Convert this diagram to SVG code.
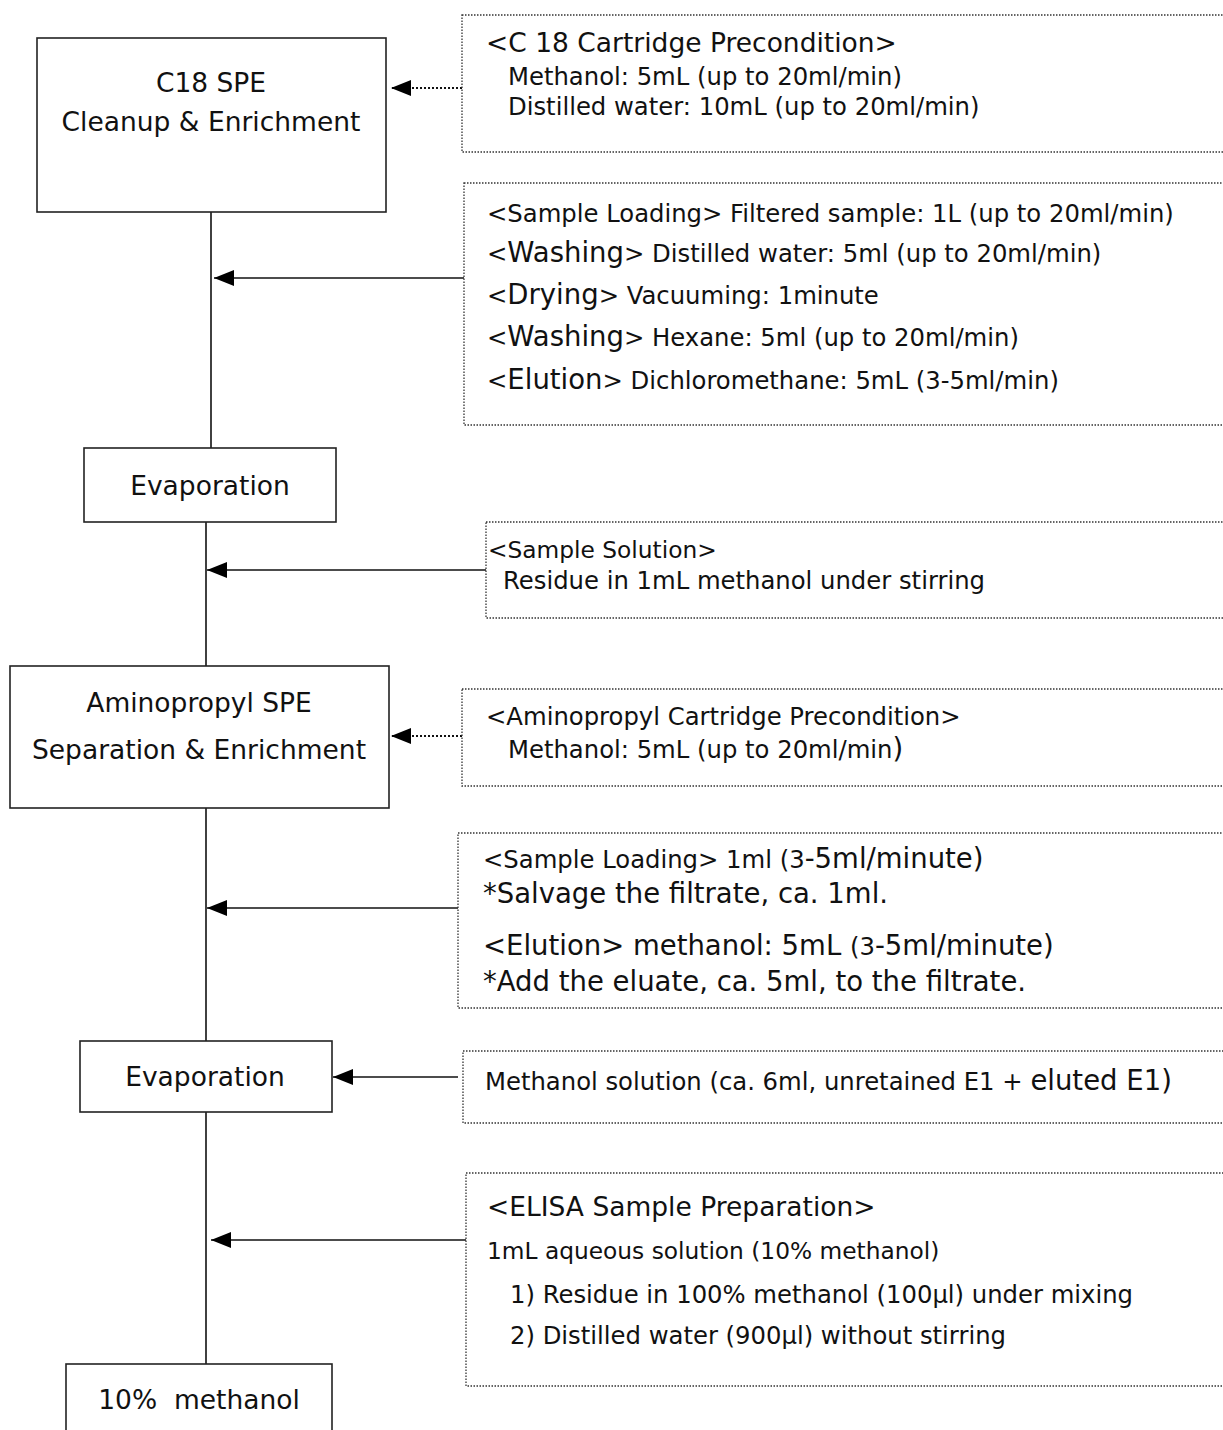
<svg xmlns="http://www.w3.org/2000/svg" width="1223" height="1430" viewBox="0 0 1223 1430">
<style>
text{font-family:"DejaVu Sans","Liberation Sans",sans-serif;fill:#111;}
.node rect{fill:#fff;stroke:#222;stroke-width:1.6;}
.nl{font-size:26.5px;text-anchor:middle;}
.note rect{fill:#fff;stroke:#333;stroke-width:1.3;stroke-dasharray:1.5 1.5;}
.h{font-size:26.5px;}
.b{font-size:24.3px;}
.s{font-size:23.3px;}
.big{font-size:27.5px;}
.conn line{stroke:#111;stroke-width:1.6;}
.conn .dot{stroke-dasharray:2 2;stroke-width:2;}
</style>
<defs>
<marker id="ah" viewBox="0 0 20 16" refX="20" refY="8" markerWidth="20" markerHeight="16" markerUnits="userSpaceOnUse" orient="auto">
<path d="M0,0 L20,8 L0,16 z" fill="#000"/>
</marker>
</defs>
<rect width="1223" height="1430" fill="#fff"/>
<g id="connectors" class="conn">
<line x1="211" y1="212" x2="211" y2="448"/>
<line x1="206" y1="522" x2="206" y2="666"/>
<line x1="206" y1="808" x2="206" y2="1041"/>
<line x1="206" y1="1112" x2="206" y2="1364"/>
<line class="dot" x1="462" y1="88" x2="391" y2="88" marker-end="url(#ah)"/>
<line x1="464" y1="278" x2="214" y2="278" marker-end="url(#ah)"/>
<line x1="486" y1="570" x2="207" y2="570" marker-end="url(#ah)"/>
<line class="dot" x1="462" y1="736" x2="391" y2="736" marker-end="url(#ah)"/>
<line x1="458" y1="908" x2="207" y2="908" marker-end="url(#ah)"/>
<line x1="458" y1="1077" x2="333" y2="1077" marker-end="url(#ah)"/>
<line x1="466" y1="1240" x2="211" y2="1240" marker-end="url(#ah)"/>
</g>
<g id="c18" class="node"><rect x="37" y="38" width="349" height="174"/>
<text class="nl" x="211" y="92">C18 SPE</text><text class="nl" x="211" y="131">Cleanup &amp; Enrichment</text></g>
<g id="evap1" class="node"><rect x="84" y="448" width="252" height="74"/>
<text class="nl" x="210" y="495">Evaporation</text></g>
<g id="amino" class="node"><rect x="10" y="666" width="379" height="142"/>
<text class="nl" x="199" y="712">Aminopropyl SPE</text><text class="nl" x="199" y="759">Separation &amp; Enrichment</text></g>
<g id="evap2" class="node"><rect x="80" y="1041" width="252" height="71"/>
<text class="nl" x="205" y="1086">Evaporation</text></g>
<g id="meth10" class="node"><rect x="66" y="1364" width="266" height="80"/>
<text class="nl" x="199" y="1409" xml:space="preserve">10%  methanol</text></g>
<g id="noteA" class="note"><rect x="462" y="15" width="780" height="137"/>
<text class="h" x="486" y="52">&lt;C 18 Cartridge Precondition&gt;</text>
<text class="b" x="508" y="85">Methanol: 5mL (up to 20ml/min)</text>
<text class="b" x="508" y="115">Distilled water: 10mL (up to 20ml/min)</text></g>
<g id="noteB" class="note"><rect x="464" y="183" width="780" height="242"/>
<text class="b" x="487" y="222">&lt;Sample Loading&gt; Filtered sample: 1L (up to 20ml/min)</text>
<text class="b" x="487" y="262">&lt;<tspan class="big">Washing</tspan>&gt; Distilled water: 5ml (up to 20ml/min)</text>
<text class="b" x="487" y="304">&lt;<tspan class="big">Drying</tspan>&gt; Vacuuming: 1minute</text>
<text class="b" x="487" y="346">&lt;<tspan class="big">Washing</tspan>&gt; Hexane: 5ml (up to 20ml/min)</text>
<text class="b" x="487" y="389">&lt;<tspan class="big">Elution</tspan>&gt; Dichloromethane: 5mL (3-5ml/min)</text></g>
<g id="noteC" class="note"><rect x="486" y="522" width="760" height="96"/>
<text class="s" x="488" y="558">&lt;Sample Solution&gt;</text>
<text class="b" x="503" y="589">Residue in 1mL methanol under stirring</text></g>
<g id="noteD" class="note"><rect x="462" y="689" width="780" height="97"/>
<text class="b" x="486" y="725">&lt;Aminopropyl Cartridge Precondition&gt;</text>
<text class="b" x="508" y="758">Methanol: 5mL (up to 20ml/min<tspan class="big">)</tspan></text></g>
<g id="noteE" class="note"><rect x="458" y="833" width="785" height="175"/>
<text class="b" x="483" y="868">&lt;Sample Loading&gt; 1ml (3<tspan class="big">-5ml/minute)</tspan></text>
<text class="big" x="483" y="903">*Salvage the filtrate, ca. 1ml.</text>
<text class="big" x="483" y="955">&lt;Elution&gt; methanol: 5mL <tspan class="b">(3</tspan>-5ml/minute)</text>
<text class="big" x="483" y="991">*Add the eluate, ca. 5ml, to the filtrate.</text></g>
<g id="noteF" class="note"><rect x="463" y="1051" width="780" height="72"/>
<text class="b" x="485" y="1090">Methanol solution (ca. 6ml, unretained E1 + <tspan class="big">eluted E1)</tspan></text></g>
<g id="noteG" class="note"><rect x="466" y="1173" width="780" height="213"/>
<text class="h" x="487" y="1216">&lt;ELISA Sample Preparation&gt;</text>
<text class="s" x="487" y="1259">1mL aqueous solution (10% methanol)</text>
<text class="b" x="510" y="1303">1) Residue in 100% methanol (100μl) under mixing</text>
<text class="b" x="510" y="1344">2) Distilled water (900μl) without stirring</text></g>
</svg>
